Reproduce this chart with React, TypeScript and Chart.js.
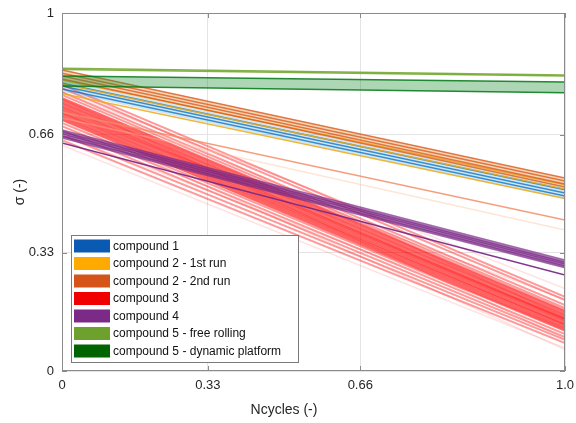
import React, { useEffect, useRef } from 'react';
import { Chart, registerables } from 'chart.js';

Chart.register(...registerables);

// ---------- data ----------
const xTickValues = [0, 0.29, 0.593, 1];
const xTickLabels = ['0', '0.33', '0.66', '1.0'];
const yTickValues = [0, 0.33, 0.66, 1];
const yTickLabels = ['0', '0.33', '0.66', '1'];

const compounds = [
  'compound 1',
  'compound 2 - 1st run',
  'compound 2 - 2nd run',
  'compound 3',
  'compound 4',
  'compound 5 - free rolling',
  'compound 5 - dynamic platform',
];
const compoundColors = ['#0A5AB4', '#FFAA00', '#D4541A', '#F00000', '#7B2A87', '#6EA02E', '#006400'];

// each line: [sigma at Ncycles=0, sigma at Ncycles=1]
const compound1Lines = [[0.804, 0.506], [0.796, 0.497], [0.788, 0.489]];
const compound1Band = [[0.812, 0.514], [0.780, 0.480]];
const compound2aLines = [[0.813, 0.52], [0.802, 0.508], [0.775, 0.482]];
const compound2bLines = [[0.841, 0.539], [0.832, 0.531], [0.824, 0.522], [0.816, 0.514]];
const compound2bBand = [[0.842, 0.54], [0.815, 0.513]];
const compound2bFaint = [[0.723, 0.422], [0.707, 0.394]];
const compound3Lines = [
  [0.80, 0.207], [0.79, 0.198], [0.779, 0.184], [0.771, 0.176], [0.763, 0.17], [0.757, 0.165],
  [0.751, 0.159], [0.746, 0.154], [0.74, 0.148], [0.735, 0.145], [0.729, 0.142], [0.723, 0.137],
  [0.718, 0.131], [0.712, 0.128], [0.707, 0.123], [0.701, 0.117], [0.693, 0.112], [0.684, 0.103],
  [0.673, 0.095], [0.659, 0.087], [0.645, 0.078],
];
const compound3Band = [[0.765, 0.17], [0.70, 0.11]];
const compound3Faint = [[0.78, 0.23], [0.7, 0.06], [0.76, 0.09], [0.66, 0.12], [0.8, 0.15], [0.72, 0.2], [0.631, 0.064]];
const compound4Lines = [[0.673, 0.31], [0.668, 0.304], [0.662, 0.299], [0.656, 0.293], [0.651, 0.288], [0.637, 0.268]];
const compound4Band = [[0.672, 0.309], [0.652, 0.289]];
const compound5aLines = [[0.846, 0.827], [0.842, 0.824]];
const compound5bLines = [[0.824, 0.807], [0.796, 0.777]];

// ---------- helpers ----------
const mkLine = (pair: number[], color: string, width: number) => ({
  data: [{ x: 0, y: pair[0] }, { x: 1, y: pair[1] }],
  borderColor: color,
  borderWidth: width,
  pointRadius: 0,
  fill: false,
  tension: 0,
});

function buildDatasets() {
  const list: any[] = [];
  const addBand = (band: number[][], fillColor: string) => {
    const upper: any = mkLine(band[0], 'rgba(0,0,0,0)', 0);
    const lower: any = mkLine(band[1], 'rgba(0,0,0,0)', 0);
    list.push(upper);
    const upperIdx = list.length - 1;
    list.push(lower);
    upper.fill = upperIdx + 1;
    upper.backgroundColor = fillColor;
  };
  compound3Faint.forEach((p) => list.push(mkLine(p, 'rgba(255,60,60,0.15)', 1.5)));
  addBand(compound3Band, 'rgba(255,0,0,0.35)');
  compound3Lines.forEach((p) => list.push(mkLine(p, 'rgba(255,0,0,0.4)', 2)));
  addBand(compound4Band, 'rgba(123,42,135,0.6)');
  compound4Lines.forEach((p, i) => list.push(mkLine(p, i === 5 ? 'rgba(123,42,135,0.95)' : 'rgba(123,42,135,0.7)', 1.5)));
  compound2bFaint.forEach((p, i) => list.push(mkLine(p, i === 0 ? 'rgba(245,140,100,0.85)' : 'rgba(255,190,150,0.4)', 1.5)));
  addBand(compound1Band, 'rgba(80,150,220,0.25)');
  compound1Lines.forEach((p) => list.push(mkLine(p, 'rgba(0,114,189,0.75)', 1.5)));
  compound2aLines.forEach((p) => list.push(mkLine(p, 'rgba(237,170,20,0.85)', 1.5)));
  addBand(compound2bBand, 'rgba(230,140,40,0.35)');
  compound2bLines.forEach((p) => list.push(mkLine(p, 'rgba(217,83,25,0.75)', 1.5)));
  addBand(compound5bLines, 'rgba(20,140,40,0.35)');
  compound5bLines.forEach((p) => list.push(mkLine(p, 'rgba(0,120,20,0.85)', 1.5)));
  compound5aLines.forEach((p) => list.push(mkLine(p, 'rgba(110,165,40,0.85)', 1.5)));
  const n = list.length;
  list.forEach((d, i) => (d.order = n - i));
  return list;
}

const overlayPlugin = {
  id: 'overlay',
  afterDraw(chart: any) {
    const { ctx, chartArea } = chart;
    const { left, right, top, bottom } = chartArea;
    const xs = chart.scales.x;
    const ys = chart.scales.y;
    ctx.save();
    ctx.strokeStyle = '#8a8a8a';
    ctx.lineWidth = 1;
    ctx.strokeRect(Math.round(left) + 0.5, Math.round(top) + 0.5, Math.round(right - left) - 1, Math.round(bottom - top) - 1);
    ctx.beginPath();
    xTickValues.forEach((v) => {
      const px = Math.round(xs.getPixelForValue(v)) + 0.5;
      ctx.moveTo(px, bottom);
      ctx.lineTo(px, bottom - 5);
      ctx.moveTo(px, top);
      ctx.lineTo(px, top + 5);
    });
    yTickValues.forEach((v) => {
      const py = Math.round(ys.getPixelForValue(v)) + 0.5;
      ctx.moveTo(left, py);
      ctx.lineTo(left + 5, py);
      ctx.moveTo(right, py);
      ctx.lineTo(right - 5, py);
    });
    ctx.stroke();

    ctx.fillStyle = '#262626';
    ctx.font = '14px "Liberation Sans", Arial, sans-serif';
    ctx.textAlign = 'center';
    ctx.textBaseline = 'middle';
    ctx.fillText('Ncycles (-)', 284, 410);
    ctx.save();
    ctx.translate(20, (top + bottom) / 2);
    ctx.rotate(-Math.PI / 2);
    ctx.fillText('σ (-)', 0, 0);
    ctx.restore();

    const lx = left + 9;
    const ly = bottom - 136;
    const lw = 227;
    const lh = 127;
    ctx.fillStyle = '#ffffff';
    ctx.fillRect(lx, ly, lw, lh);
    ctx.strokeStyle = '#7a7a7a';
    ctx.strokeRect(lx + 0.5, ly + 0.5, lw, lh);
    ctx.font = '12px "Liberation Sans", Arial, sans-serif';
    ctx.textAlign = 'left';
    ctx.textBaseline = 'middle';
    compounds.forEach((name, i) => {
      const cy = ly + 11 + i * 17.5;
      ctx.fillStyle = compoundColors[i];
      ctx.fillRect(lx + 3, cy - 6.5, 36, 13);
      ctx.fillStyle = '#111111';
      ctx.fillText(name, lx + 42, cy + 0.5);
    });
    ctx.restore();
  },
};

export default function App() {
  const ref = useRef<HTMLCanvasElement>(null);
  useEffect(() => {
    document.body.style.margin = '0';
    const chart = new Chart(ref.current as HTMLCanvasElement, {
      type: 'line',
      data: { datasets: buildDatasets() },
      options: {
        responsive: false,
        animation: false,
        devicePixelRatio: 1,
        layout: { padding: { left: 0, top: 13, right: 11, bottom: 0 } },
        plugins: { legend: { display: false }, tooltip: { enabled: false } },
        scales: {
          x: {
            type: 'linear',
            min: 0,
            max: 1,
            afterBuildTicks: (s: any) => {
              s.ticks = xTickValues.map((v) => ({ value: v }));
            },
            afterFit: (s: any) => {
              s.height = 52;
              s.paddingLeft = 0;
              s.paddingRight = 0;
            },
            ticks: {
              callback: (_v: any, i: number) => xTickLabels[i],
              font: { family: '"Liberation Sans", Arial, sans-serif', size: 13 },
              color: '#262626',
              padding: 7,
              maxRotation: 0,
            },
            grid: { color: '#e4e4e4', drawTicks: false },
            border: { display: false },
          },
          y: {
            type: 'linear',
            min: 0,
            max: 1,
            afterBuildTicks: (s: any) => {
              s.ticks = yTickValues.map((v) => ({ value: v }));
            },
            afterFit: (s: any) => {
              s.width = 62;
              s.paddingTop = 0;
              s.paddingBottom = 0;
            },
            ticks: {
              callback: (_v: any, i: number) => yTickLabels[i],
              font: { family: '"Liberation Sans", Arial, sans-serif', size: 13 },
              color: '#262626',
              padding: 8,
            },
            grid: { color: '#e4e4e4', drawTicks: false },
            border: { display: false },
          },
        },
      } as any,
      plugins: [overlayPlugin],
    });
    return () => chart.destroy();
  }, []);
  return (
    <div style={{ position: 'absolute', left: 0, top: 0, width: 576, height: 423, background: '#fff' }}>
      <canvas ref={ref} width={576} height={423} style={{ display: 'block' }} />
    </div>
  );
}
